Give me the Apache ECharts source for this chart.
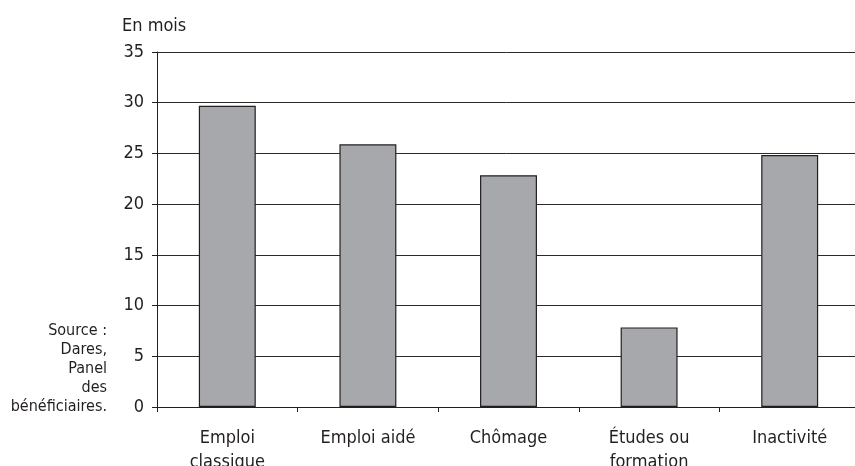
<!DOCTYPE html>
<html>
<head>
<meta charset="utf-8">
<script src="https://cdn.jsdelivr.net/npm/echarts@6/dist/echarts.min.js"></script>
<style>
html,body{margin:0;padding:0;background:#fff;}
#chart{width:855px;height:466px;}
</style>
</head>
<body>
<div id="chart"></div>
<script>
const categories = ['Emploi\nclassique', 'Emploi aidé', 'Chômage', 'Études ou\nformation', 'Inactivité'];
const values = [29.7, 25.9, 22.85, 7.85, 24.85];
const yTicks = { min: 0, max: 35, interval: 5 };
const unitLabel = 'En mois';
const sourceLines = ['Source :', 'Dares,', 'Panel', 'des', 'bénéficiaires.'];

const FONT = '"DejaVu Sans Condensed", "DejaVu Sans"';
const TXT = '#231f20';

const chart = echarts.init(document.getElementById('chart'), null, { renderer: 'canvas' });
chart.setOption({
  animation: false,
  backgroundColor: '#ffffff',
  title: {
    text: unitLabel,
    left: 117,
    top: 12,
    textStyle: { fontFamily: FONT, fontSize: 18, fontWeight: 'normal', color: TXT }
  },
  grid: { left: 157, top: 52, width: 703, bottom: 59, containLabel: false, outerBoundsMode: 'none' },
  xAxis: {
    type: 'category',
    data: categories,
    axisLine: { show: true, lineStyle: { color: '#231f20', width: 1 } },
    axisTick: { show: true, length: 5, alignWithLabel: false, lineStyle: { color: '#231f20' } },
    axisLabel: {
      fontFamily: FONT, fontSize: 18, color: TXT, margin: 19, lineHeight: 24, interval: 0
    },
    splitLine: { show: false }
  },
  yAxis: {
    type: 'value',
    min: yTicks.min, max: yTicks.max, interval: yTicks.interval,
    axisLine: { show: true, lineStyle: { color: '#231f20', width: 1 } },
    axisTick: { show: true, length: 5, lineStyle: { color: '#231f20' } },
    axisLabel: { fontFamily: FONT, fontSize: 18, color: TXT, margin: 13 },
    splitLine: { show: true, lineStyle: { color: '#2b2b2b', width: 1 } }
  },
  series: [{
    type: 'bar',
    data: values,
    barWidth: '40.5%',
    itemStyle: { color: '#a7a8ab', borderColor: '#231f20', borderWidth: 1.2 }
  }],
  graphic: [{
    type: 'text',
    x: 107,
    y: 321,
    style: {
      text: sourceLines.join('\n'),
      align: 'right',
      verticalAlign: 'top',
      lineHeight: 19,
      fontFamily: FONT,
      fontSize: 16,
      fill: TXT
    }
  }]
});
</script>
</body>
</html>
